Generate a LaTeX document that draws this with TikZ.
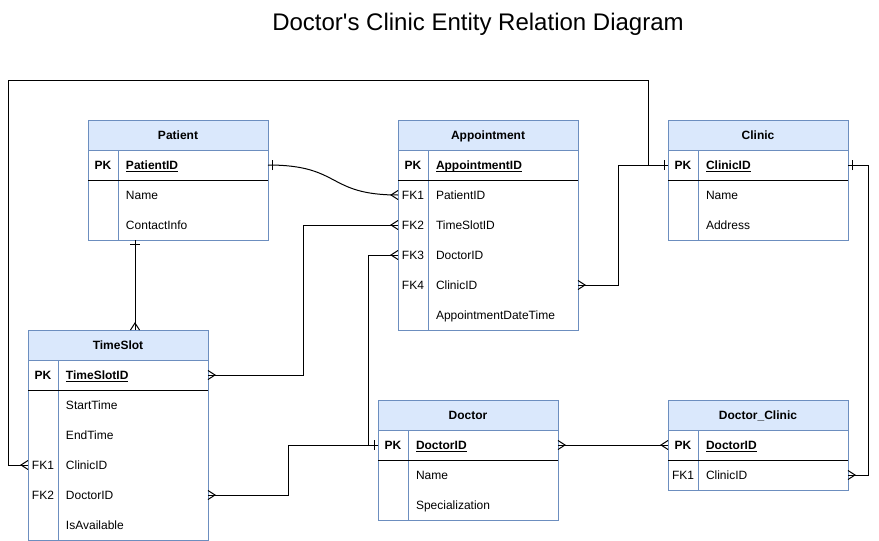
\documentclass[tikz,border=0pt]{standalone}
\usepackage{fontspec}
\setmainfont{Liberation Sans}
\usetikzlibrary{matrix,positioning,calc}

\definecolor{tblue}{HTML}{6C8EBF}
\definecolor{hfill}{HTML}{DAE8FC}

% crow's foot and single bar ends
\pgfdeclarearrow{
  name = ermany,
  setup code = {
    \pgfarrowssettipend{0pt}
    \pgfarrowssetlineend{0pt}
    \pgfarrowssetbackend{-7pt}
    \pgfarrowsupperhullpoint{0pt}{4.5pt}
    \pgfarrowsupperhullpoint{-7pt}{0pt}
  },
  drawing code = {
    \pgfpathmoveto{\pgfpoint{0pt}{4.5pt}}
    \pgfpathlineto{\pgfpoint{-7pt}{0pt}}
    \pgfpathlineto{\pgfpoint{0pt}{-4.5pt}}
    \pgfusepathqstroke
  }
}
\pgfdeclarearrow{
  name = erone,
  setup code = {
    \pgfarrowssettipend{0pt}
    \pgfarrowssetlineend{0pt}
    \pgfarrowssetbackend{-5pt}
    \pgfarrowsupperhullpoint{0pt}{5pt}
    \pgfarrowsupperhullpoint{-5pt}{5pt}
  },
  drawing code = {
    \pgfpathmoveto{\pgfpoint{-4pt}{5pt}}
    \pgfpathlineto{\pgfpoint{-4pt}{-5pt}}
    \pgfusepathqstroke
  }
}

\newcommand{\keyname}[1]{\underline{\smash{#1}}}

\begin{document}
\begin{tikzpicture}[
x=1pt, y=-1pt, line width=1pt,
font=\fontsize{12}{14}\selectfont,
head/.style={draw=tblue, fill=hfill, minimum width=180pt, minimum height=30pt,
    inner sep=0pt, outer sep=0pt, text height=10pt, text depth=1.4pt,
    font=\fontsize{12}{14}\selectfont\bfseries},
table/.style={
    matrix of nodes,
    draw=tblue, inner sep=0pt, outer sep=0pt,
    nodes in empty cells,
    nodes={inner ysep=0pt, outer sep=0pt, minimum height=30pt, text height=10pt, text depth=1.4pt},
    column 1/.style={nodes={inner xsep=0pt, minimum width=30pt}},
    column 2/.style={nodes={inner xsep=8pt, text width=134pt, align=left}},
},
pk/.style={font=\fontsize{12}{14}\selectfont\bfseries},
]
\useasboundingbox (0,0) rectangle (879,541);

\node (title) at (478,24) {\fontsize{24}{28}\selectfont Doctor\textquotesingle s Clinic Entity Relation Diagram};

% tables
\node[head, anchor=north west] (patienth) at (88,120) {Patient};
\matrix[table, below=0pt of patienth] (patient) {
  |[pk]| PK & |[pk]| \keyname{PatientID} \\
   & Name \\
   & ContactInfo \\
};

\node[head, anchor=north west] (appth) at (398,120) {Appointment};
\matrix[table, below=0pt of appth] (appt) {
  |[pk]| PK & |[pk]| \keyname{AppointmentID} \\
  FK1 & PatientID \\
  FK2 & TimeSlotID \\
  FK3 & DoctorID \\
  FK4 & ClinicID \\
   & AppointmentDateTime \\
};

\node[head, anchor=north west] (clinich) at (668,120) {Clinic};
\matrix[table, below=0pt of clinich] (clinic) {
  |[pk]| PK & |[pk]| \keyname{ClinicID} \\
   & Name \\
   & Address \\
};

\node[head, anchor=north west] (tsh) at (28,330) {TimeSlot};
\matrix[table, below=0pt of tsh] (ts) {
  |[pk]| PK & |[pk]| \keyname{TimeSlotID} \\
   & StartTime \\
   & EndTime \\
  FK1 & ClinicID \\
  FK2 & DoctorID \\
   & IsAvailable \\
};

\node[head, anchor=north west] (doch) at (378,400) {Doctor};
\matrix[table, below=0pt of doch] (doc) {
  |[pk]| PK & |[pk]| \keyname{DoctorID} \\
   & Name \\
   & Specialization \\
};

\node[head, anchor=north west] (dch) at (668,400) {Doctor\_Clinic};
\matrix[table, below=0pt of dch] (dc) {
  |[pk]| PK & |[pk]| \keyname{DoctorID} \\
  FK1 & ClinicID \\
};

\foreach \t in {patient,appt,clinic,ts,doc,dc} {
  \draw[tblue] (\t-1-1.north east) -- (\t-1-1.north east |- \t.south);
  \draw (\t-1-1.south west) -- (\t-1-2.south east);
}

% relations
\draw[erone-ermany] (patient-1-2.east) .. controls (342,165) and (326,195) .. (appt-2-1.west);
\draw[ermany-ermany] (ts-1-2.east) -- ++(95,0) |- (appt-3-1.west);
\draw[erone-ermany] (doc-1-1.west) -- ++(-10,0) |- (appt-4-1.west);
\draw[ermany-erone] (ts-5-2.east) -- ++(80,0) |- (doc-1-1.west);
\draw[ermany-erone] (appt-5-2.east) -- ++(40,0) |- (clinic-1-1.west);
\draw[ermany-erone] (ts-4-1.west) -- ++(-20,0) |- ++(640,-385) |- (clinic-1-1.west);
\draw[erone-ermany] (clinic-1-2.east) -- ++(20,0) |- (dc-2-2.east);
\draw[ermany-ermany] (doc-1-2.east) -- (dc-1-1.west);
\draw[erone-ermany] ($(patient.south west)+(47,0)$) -- ($(tsh.north west)+(107,0)$);

\end{tikzpicture}
\end{document}
